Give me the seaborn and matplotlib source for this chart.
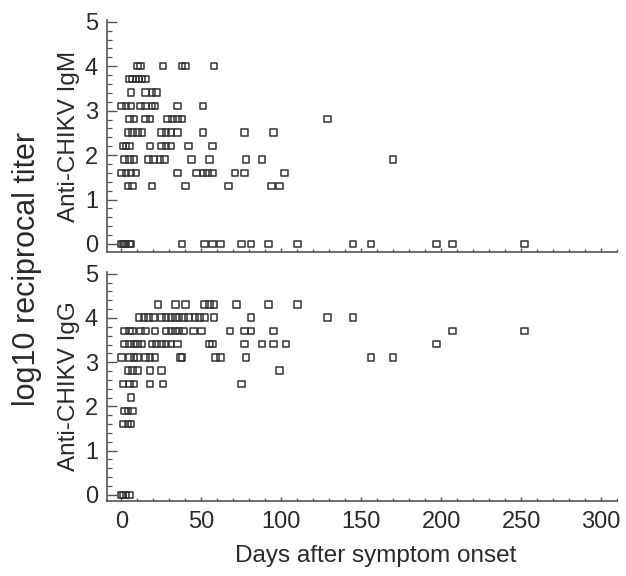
import numpy as np
import pandas as pd
import matplotlib
matplotlib.use("Agg")
import matplotlib.pyplot as plt
import seaborn as sns
from matplotlib.ticker import MultipleLocator

# ---- data: log10 reciprocal titer levels (20*2^n) ----
L0, L13, L16, L19, L22, L25, L28, L31, L34, L37, L40, L43 = (
    0.0, 1.30, 1.60, 1.90, 2.20, 2.51, 2.81, 3.11, 3.41, 3.71, 4.01, 4.31)

# IgM (top panel): days after onset per titer level
igm_days = {
    L40: [10, 12, 26, 38, 40, 58],
    L37: [5, 7, 9, 11, 13, 15],
    L34: [6, 15, 19, 22],
    L31: [0, 3, 6, 12, 15, 19, 21, 35, 51],
    L28: [5, 8, 15, 18, 29, 32, 35, 38, 129],
    L25: [4, 7, 10, 13, 25, 28, 31, 35, 51, 77, 95],
    L22: [1, 3, 5, 18, 25, 28, 31, 42, 57],
    L19: [2, 5, 8, 17, 20, 24, 27, 44, 55, 78, 88, 170],
    L16: [0, 3, 6, 9, 35, 47, 51, 54, 57, 71, 77, 102],
    L13: [4, 7, 19, 40, 67, 94, 99],
    L0: [0, 1, 2, 3, 5, 6, 38, 52, 57, 62, 75, 81, 92, 110, 145, 156, 197, 207, 252],
}

# IgG (bottom panel)
igg_days = {
    L43: [23, 34, 40, 52, 55, 58, 72, 92, 110],
    L40: [11, 14, 17, 20, 25, 28, 31, 34, 36, 39, 42, 46, 49, 52, 58, 81, 129, 145],
    L37: [2, 5, 7, 12, 15, 21, 28, 31, 34, 36, 39, 45, 50, 68, 77, 81, 95, 207, 252],
    L34: [2, 5, 8, 10, 13, 19, 22, 25, 28, 31, 35, 55, 57, 77, 88, 95, 103, 197],
    L31: [0, 5, 8, 10, 15, 18, 21, 37, 38, 59, 62, 78, 156, 170],
    L28: [4, 7, 10, 18, 25, 99],
    L25: [1, 5, 8, 18, 26, 75],
    L22: [6],
    L19: [2, 4, 7],
    L16: [1, 4, 6],
    L0: [0, 1, 3, 5],
}

panel_labels = ["Anti-CHIKV IgM", "Anti-CHIKV IgG"]
x_ticks = [0, 50, 100, 150, 200, 250, 300]
y_ticks = [0, 1, 2, 3, 4, 5]


def to_frame(d):
    rows = [(day, lvl) for lvl, days in d.items() for day in days]
    return pd.DataFrame(rows, columns=["day", "titer"])


sns.set_style("white")
plt.rcParams["font.family"] = ["Liberation Sans", "DejaVu Sans"]

text_col = "#2a2a2a"
axis_col = "#555555"

fig = plt.figure(figsize=(6.26, 5.76), dpi=100)
W, H = 626, 576
left, right = 107, 617
boxes = [(20, 252, (-0.18, 5.04)), (272, 501, (-0.14, 5.04))]
axes = []
for (top, bot, ylim) in boxes:
    ax = fig.add_axes([left / W, 1 - bot / H, (right - left) / W, (bot - top) / H])
    axes.append((ax, ylim))

for (ax, ylim), data, lab in zip(axes, [igm_days, igg_days], panel_labels):
    df = to_frame(data)
    sns.scatterplot(data=df, x="day", y="titer", ax=ax, marker="s", s=22,
                    facecolor="none", edgecolor="#333333", linewidth=1.1,
                    legend=False)
    ax.set_xlim(-9, 310)
    ax.set_ylim(*ylim)
    ax.set_xticks(x_ticks)
    ax.set_yticks(y_ticks)
    ax.xaxis.set_minor_locator(MultipleLocator(10))
    ax.yaxis.set_minor_locator(MultipleLocator(0.2))
    ax.tick_params(axis="both", which="both", left=True, bottom=True,
                   top=False, right=False)
    ax.tick_params(axis="y", which="major", direction="in", length=7.2, width=1.0,
                   color=axis_col, labelsize=17, labelcolor=text_col, pad=6.5)
    ax.tick_params(axis="y", which="minor", direction="in", length=3.6, width=0.9,
                   color=axis_col)
    ax.tick_params(axis="x", which="major", direction="in", length=3.2, width=1.0,
                   color=axis_col, labelsize=17, labelcolor=text_col, pad=7)
    ax.tick_params(axis="x", which="minor", direction="in", length=2.0, width=0.9,
                   color=axis_col)
    for s in ["top", "right"]:
        ax.spines[s].set_visible(False)
    for s in ["left", "bottom"]:
        ax.spines[s].set_color(axis_col)
        ax.spines[s].set_linewidth(1.2)
    ax.set_xlabel("")
    ax.set_ylabel(lab, fontsize=17.5, color=text_col)
    ax.yaxis.set_label_coords(-0.053, 0.5)

axes[0][0].tick_params(axis="x", which="both", labelbottom=False)
axb = axes[1][0]
axb.set_xlabel("Days after symptom onset", fontsize=17.5, color=text_col)
axb.xaxis.set_label_coords((376 - left) / (right - left), -0.19)

fig.text(27 / W, 1 - 269 / H, "log10 reciprocal titer", rotation=90,
         fontsize=22, color=text_col, ha="center", va="center")

fig.savefig("out.png", dpi=100, facecolor="white")
